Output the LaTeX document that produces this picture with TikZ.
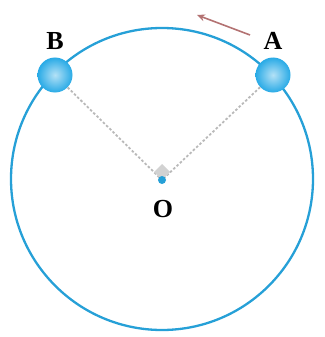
\documentclass[tikz,border=0pt]{standalone}
\usepackage{tikz}
\usepackage{fontspec}
\setmainfont{Liberation Serif}
\usetikzlibrary{arrows.meta,positioning,calc}
\definecolor{ringblue}{RGB}{38,160,215}
\definecolor{ballblue}{RGB}{40,170,230}

\begin{document}
\begin{tikzpicture}[x=1pt, y=-1pt, font=\bfseries\fontsize{26}{30}\selectfont]
\useasboundingbox (0,0) rectangle (324,337);
\tikzset{
  ball/.style={circle, minimum size=35pt, inner sep=0pt, inner color=ballblue!35!white, outer color=ballblue},
  radius line/.style={gray!55, dash pattern=on 2.5pt off 2pt, line width=1.8pt}
}
% the ring
\draw[ringblue, line width=2.3pt] (162,179) circle[radius=151];
\coordinate (O) at (162,180);

% radius lines and right-angle mark
\node[ball] (A) at (273,75) {};
\node[ball] (B) at (55,75) {};
\draw[radius line] (B) -- (O);
\draw[radius line] (A) -- (O);
\fill[gray!35] (O) -- ++(-8,-8) -- ++(8,-8) -- ++(8,8) -- cycle;
\fill[ringblue] (O) circle[radius=4];

\node (lA) at (273,41) {A};
\node (lB) at (55,41) {B};
\node (lO) at (163,209) {O};

% direction of motion
\coordinate (t0) at (250,35);
\coordinate (t1) at (197,15);
\draw[-{Stealth[length=8pt,width=7pt]}, line width=1.6pt, red!30!gray!85] (t0) -- (t1);
\end{tikzpicture}
\end{document}
